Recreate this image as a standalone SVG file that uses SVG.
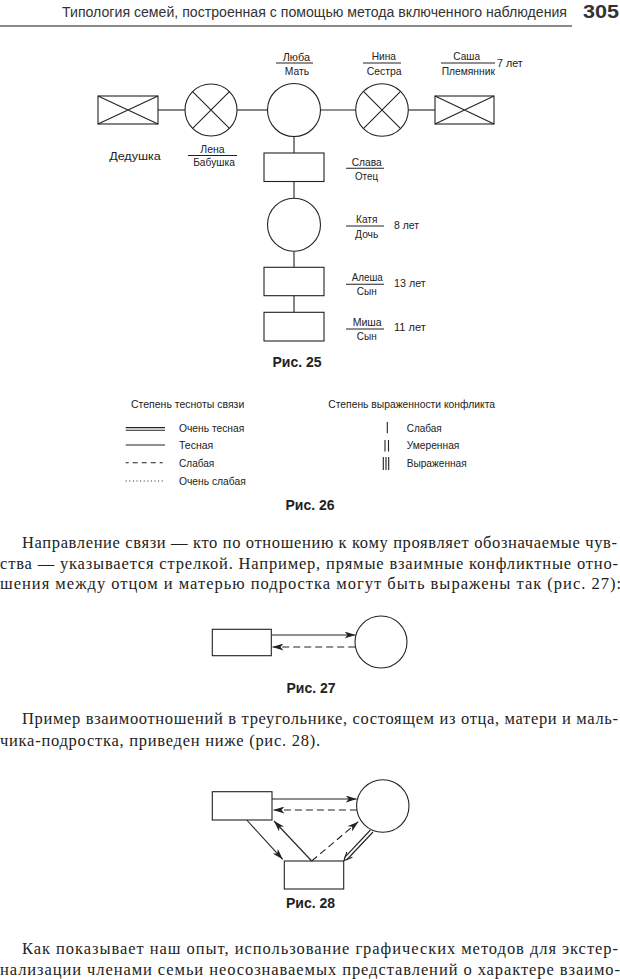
<svg xmlns="http://www.w3.org/2000/svg" width="620" height="979" viewBox="0 0 620 979">
<style>
.bg{fill:#fff}
.sh{fill:#fff;stroke:#222;stroke-width:1.1}
.ln{fill:none;stroke:#222;stroke-width:1.1}
.ds{fill:none;stroke:#222;stroke-width:1.1;stroke-dasharray:7 4}
.lb{font-family:"Liberation Sans",Arial,sans-serif;font-size:11.5px;fill:#222}
.lg{font-family:"Liberation Sans",Arial,sans-serif;font-size:11px;fill:#222}
.cap{font-family:"Liberation Sans",Arial,sans-serif;font-size:14px;font-weight:bold;fill:#222;text-anchor:middle}
.bd{font-family:"Liberation Serif","Times New Roman",serif;font-size:16.5px;fill:#222}
.hd{font-family:"Liberation Sans",Arial,sans-serif;font-size:13.8px;fill:#333}
.mid{text-anchor:middle}
</style>
<defs>
<marker id="ah" viewBox="0 0 11 7" refX="11" refY="3.5" markerWidth="11" markerHeight="7" markerUnits="userSpaceOnUse" orient="auto">
<path d="M0,0 L11,3.5 L0,7 L3,3.5 z" fill="#222"/>
</marker>
</defs>
<rect class="bg" x="0" y="0" width="620" height="979"/>

<!-- header -->
<g id="header">
<text class="hd" x="62" y="16.7" textLength="505" lengthAdjust="spacingAndGlyphs">Типология семей, построенная с помощью метода включенного наблюдения</text>
<text x="583" y="18" font-family="Liberation Sans,Arial,sans-serif" font-size="18" font-weight="bold" fill="#333" textLength="36" lengthAdjust="spacingAndGlyphs">305</text>
<line x1="0" y1="26" x2="572" y2="26" stroke="#8a8a8a" stroke-width="2.2"/>
</g>

<!-- Fig 25 -->
<g id="fig25-connectors">
<line class="ln" x1="158" y1="110" x2="185" y2="110"/>
<line class="ln" x1="237" y1="110" x2="267.5" y2="110"/>
<line class="ln" x1="320.5" y1="110" x2="355.7" y2="110"/>
<line class="ln" x1="408.3" y1="110" x2="435" y2="110"/>
<line class="ln" x1="294" y1="136.5" x2="294" y2="153"/>
<line class="ln" x1="294" y1="181.5" x2="294" y2="198.2"/>
<line class="ln" x1="294" y1="251.2" x2="294" y2="267.3"/>
<line class="ln" x1="294" y1="295.7" x2="294" y2="312.3"/>
</g>

<g id="dedushka">
<rect class="sh" x="98" y="96" width="60" height="28"/>
<path class="ln" d="M98,96 L158,124 M98,124 L158,96"/>
<text class="lb mid" x="135" y="160" textLength="51.7" lengthAdjust="spacingAndGlyphs">Дедушка</text>
</g>
<g id="lena">
<circle class="sh" cx="211" cy="110" r="26"/>
<path class="ln" d="M192.6,91.6 L229.4,128.4 M192.6,128.4 L229.4,91.6"/>
<text class="lb mid" x="212.5" y="153" textLength="24.3" lengthAdjust="spacingAndGlyphs">Лена</text>
<line class="ln" x1="188" y1="155.5" x2="237" y2="155.5" stroke-width="0.8"/>
<text class="lb mid" x="214" y="166" textLength="41.7" lengthAdjust="spacingAndGlyphs">Бабушка</text>
</g>
<g id="lyuba">
<circle class="sh" cx="294" cy="110" r="26.5"/>
<text class="lb mid" x="296.3" y="61" textLength="27.3" lengthAdjust="spacingAndGlyphs">Люба</text>
<line class="ln" x1="276" y1="63" x2="313" y2="63" stroke-width="0.8"/>
<text class="lb mid" x="297" y="75" textLength="24.3" lengthAdjust="spacingAndGlyphs">Мать</text>
</g>
<g id="nina">
<circle class="sh" cx="382" cy="110" r="26.3"/>
<path class="ln" d="M363.4,91.4 L400.6,128.6 M363.4,128.6 L400.6,91.4"/>
<text class="lb mid" x="383.8" y="60" textLength="24.3" lengthAdjust="spacingAndGlyphs">Нина</text>
<line class="ln" x1="363" y1="63" x2="401" y2="63" stroke-width="0.8"/>
<text class="lb mid" x="384.2" y="75" textLength="35" lengthAdjust="spacingAndGlyphs">Сестра</text>
</g>
<g id="sasha">
<rect class="sh" x="435" y="96" width="59" height="28"/>
<path class="ln" d="M435,96 L494,124 M435,124 L494,96"/>
<text class="lb mid" x="466.7" y="60" textLength="26.7" lengthAdjust="spacingAndGlyphs">Саша</text>
<line class="ln" x1="441" y1="63" x2="495" y2="63" stroke-width="0.8"/>
<text class="lb mid" x="468.3" y="75" textLength="53.3" lengthAdjust="spacingAndGlyphs">Племянник</text>
<text class="lb" x="497" y="66.5" textLength="25.7" lengthAdjust="spacingAndGlyphs">7 лет</text>
</g>
<g id="slava">
<rect class="sh" x="264" y="153" width="60" height="28.5"/>
<text class="lb mid" x="366.7" y="166" textLength="30" lengthAdjust="spacingAndGlyphs">Слава</text>
<line class="ln" x1="346" y1="168.3" x2="384" y2="168.3" stroke-width="0.8"/>
<text class="lb mid" x="366.5" y="179.5" textLength="23" lengthAdjust="spacingAndGlyphs">Отец</text>
</g>
<g id="katya">
<circle class="sh" cx="294" cy="224.7" r="26.5"/>
<text class="lb mid" x="366.7" y="223.3" textLength="21.3" lengthAdjust="spacingAndGlyphs">Катя</text>
<line class="ln" x1="346" y1="226" x2="384" y2="226" stroke-width="0.8"/>
<text class="lb mid" x="366.7" y="238" textLength="23.3" lengthAdjust="spacingAndGlyphs">Дочь</text>
<text class="lb" x="394" y="229" textLength="25" lengthAdjust="spacingAndGlyphs">8 лет</text>
</g>
<g id="alesha">
<rect class="sh" x="264" y="267.3" width="60" height="28.4"/>
<text class="lb mid" x="367.2" y="281" textLength="31" lengthAdjust="spacingAndGlyphs">Алеша</text>
<line class="ln" x1="346" y1="284.3" x2="384" y2="284.3" stroke-width="0.8"/>
<text class="lb mid" x="366.7" y="295" textLength="20" lengthAdjust="spacingAndGlyphs">Сын</text>
<text class="lb" x="394" y="286.5" textLength="31.7" lengthAdjust="spacingAndGlyphs">13 лет</text>
</g>
<g id="misha">
<rect class="sh" x="264" y="312.3" width="60" height="28.7"/>
<text class="lb mid" x="367.2" y="326" textLength="29" lengthAdjust="spacingAndGlyphs">Миша</text>
<line class="ln" x1="346" y1="329" x2="384" y2="329" stroke-width="0.8"/>
<text class="lb mid" x="366.7" y="340" textLength="20" lengthAdjust="spacingAndGlyphs">Сын</text>
<text class="lb" x="394" y="331" textLength="31.7" lengthAdjust="spacingAndGlyphs">11 лет</text>
</g>
<text class="cap" x="297" y="367">Рис. 25</text>

<!-- Fig 26 legend -->
<g id="legend-closeness">
<text class="lg" x="131" y="408" textLength="113.3" lengthAdjust="spacingAndGlyphs">Степень тесноты связи</text>
<line class="ln" x1="125.7" y1="427.6" x2="165" y2="427.6" stroke-width="0.9"/>
<line class="ln" x1="125.7" y1="430.2" x2="165" y2="430.2" stroke-width="0.9"/>
<text class="lg" x="179" y="432" textLength="65.3" lengthAdjust="spacingAndGlyphs">Очень тесная</text>
<line class="ln" x1="125.7" y1="445" x2="165" y2="445"/>
<text class="lg" x="179" y="449" textLength="34.3" lengthAdjust="spacingAndGlyphs">Тесная</text>
<line class="ln" x1="125.7" y1="462.7" x2="165" y2="462.7" stroke-dasharray="3 4 5 4 5 4 5 4"/>
<text class="lg" x="179" y="466.5" textLength="35.3" lengthAdjust="spacingAndGlyphs">Слабая</text>
<line class="ln" x1="125.7" y1="481" x2="165" y2="481" stroke-width="0.9" stroke-dasharray="1 2.6"/>
<text class="lg" x="179" y="484.5" textLength="66.7" lengthAdjust="spacingAndGlyphs">Очень слабая</text>
</g>
<g id="legend-conflict">
<text class="lg" x="328.3" y="407.5" textLength="166.7" lengthAdjust="spacingAndGlyphs">Степень выраженности конфликта</text>
<line class="ln" x1="387.3" y1="422" x2="387.3" y2="433.3" stroke-width="0.9"/>
<text class="lg" x="406.7" y="431.5" textLength="35" lengthAdjust="spacingAndGlyphs">Слабая</text>
<path class="ln" d="M385,440 V451.5 M388.5,440 V451.5" stroke-width="0.9"/>
<text class="lg" x="406.7" y="449" textLength="52.7" lengthAdjust="spacingAndGlyphs">Умеренная</text>
<path class="ln" d="M383.3,457 V470 M386,457 V470 M388.7,457 V470" stroke-width="0.9"/>
<text class="lg" x="406.7" y="466.5" textLength="60" lengthAdjust="spacingAndGlyphs">Выраженная</text>
</g>
<text class="cap" x="310" y="510">Рис. 26</text>

<!-- paragraph 1 -->
<text class="bd" x="22" y="548" textLength="595" lengthAdjust="spacing">Направление связи — кто по отношению к кому проявляет обозначаемые чув-</text>
<text class="bd" x="0" y="568.5" textLength="618" lengthAdjust="spacing">ства — указывается стрелкой. Например, прямые взаимные конфликтные отно-</text>
<text class="bd" x="0" y="589" textLength="621" lengthAdjust="spacing">шения между отцом и матерью подростка могут быть выражены так (рис. 27):</text>

<!-- Fig 27 -->
<g id="fig27-father">
<rect class="sh" x="212.3" y="629.3" width="59" height="26.4"/>
</g>
<g id="fig27-mother">
<circle class="sh" cx="381" cy="642" r="26"/>
</g>
<g id="fig27-connectors">
<line class="ln" x1="271.3" y1="635" x2="355.5" y2="635" marker-end="url(#ah)"/>
<line class="ds" x1="355.2" y1="647" x2="272.5" y2="647" marker-end="url(#ah)"/>
</g>
<text class="cap" x="311" y="693">Рис. 27</text>

<!-- paragraph 2 -->
<text class="bd" x="22" y="724" textLength="596" lengthAdjust="spacing">Пример взаимоотношений в треугольнике, состоящем из отца, матери и маль-</text>
<text class="bd" x="0" y="746" textLength="320" lengthAdjust="spacing">чика-подростка, приведен ниже (рис. 28).</text>

<!-- Fig 28 -->
<g id="fig28-father">
<rect class="sh" x="212.3" y="791.7" width="59.7" height="28.3"/>
</g>
<g id="fig28-mother">
<circle class="sh" cx="382.8" cy="806" r="26.2"/>
</g>
<g id="fig28-son">
<rect class="sh" x="284.3" y="861" width="59.4" height="28"/>
</g>
<g id="fig28-connectors">
<line class="ln" x1="272" y1="799" x2="356.7" y2="799" marker-end="url(#ah)"/>
<line class="ds" x1="356.9" y1="810" x2="273.5" y2="810" marker-end="url(#ah)"/>
<line class="ln" x1="246.7" y1="820" x2="282.7" y2="859.3" marker-end="url(#ah)"/>
<line class="ln" x1="311.7" y1="861" x2="274" y2="821" marker-end="url(#ah)"/>
<line class="ds" x1="311.7" y1="861" x2="358.3" y2="821.7" marker-end="url(#ah)"/>
<line class="ln" x1="373" y1="832" x2="346.6" y2="860" stroke-width="1"/>
<line class="ln" x1="370.4" y1="830" x2="344.5" y2="857.6" stroke-width="1"/>
<polyline class="ln" points="352.4,857.2 344,860.6 346.8,852" stroke-width="1"/>
</g>
<text class="cap" x="310.5" y="908">Рис. 28</text>

<!-- paragraph 3 -->
<text class="bd" x="22" y="954" textLength="596" lengthAdjust="spacing">Как показывает наш опыт, использование графических методов для экстер-</text>
<text class="bd" x="0" y="974.5" textLength="620" lengthAdjust="spacing">нализации членами семьи неосознаваемых представлений о характере взаимо-</text>
</svg>
